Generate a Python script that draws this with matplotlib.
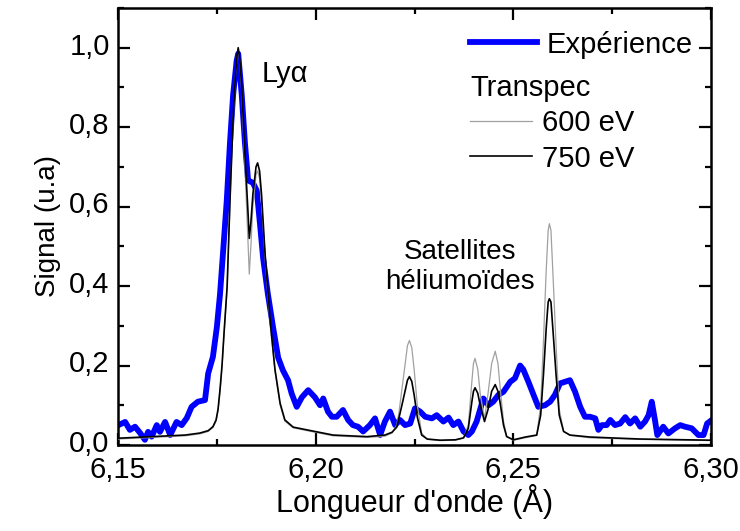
import matplotlib
matplotlib.use("Agg")
import matplotlib.pyplot as plt
from matplotlib.lines import Line2D
from matplotlib.ticker import MultipleLocator, FuncFormatter
from matplotlib.transforms import ScaledTranslation

plt.rcParams['font.family'] = ['Liberation Sans', 'DejaVu Sans']

# Experimental spectrum (wavelength in Angstrom, normalised signal)
exp_x = [6.1501, 6.1518, 6.1530, 6.1543, 6.1556, 6.1568, 6.1576, 6.1585, 6.1598, 6.1606,
         6.1619, 6.1632, 6.1648, 6.1661, 6.1674, 6.1686, 6.1702, 6.1720, 6.1728, 6.1740,
         6.1750, 6.1758, 6.1766, 6.1775, 6.1783, 6.1791, 6.1800, 6.1804, 6.1813, 6.1821,
         6.1829, 6.1841, 6.1851, 6.1859, 6.1867, 6.1879, 6.1892, 6.1905, 6.1917, 6.1930,
         6.1939, 6.1952, 6.1965, 6.1981, 6.1998, 6.2011, 6.2019, 6.2031, 6.2041, 6.2053,
         6.2069, 6.2082, 6.2094, 6.2107, 6.2120, 6.2137, 6.2150, 6.2163, 6.2175, 6.2188,
         6.2201, 6.2213, 6.2226, 6.2239, 6.2251, 6.2264, 6.2277, 6.2294, 6.2306, 6.2323,
         6.2336, 6.2348, 6.2361, 6.2374, 6.2386, 6.2395, 6.2407, 6.2424, 6.2437, 6.2449,
         6.2462, 6.2475, 6.2492, 6.2504, 6.2517, 6.2525, 6.2538, 6.2551, 6.2563, 6.2580,
         6.2593, 6.2605, 6.2618, 6.2643, 6.2656, 6.2669, 6.2681, 6.2694, 6.2707, 6.2715,
         6.2724, 6.2736, 6.2745, 6.2757, 6.2770, 6.2783, 6.2795, 6.2808, 6.2821, 6.2833,
         6.2842, 6.2850, 6.2858, 6.2864, 6.2879, 6.2892, 6.2909, 6.2922, 6.2934, 6.2951,
         6.2968, 6.2981, 6.2990, 6.3002]
exp_y = [0.050, 0.058, 0.038, 0.046, 0.030, 0.013, 0.033, 0.021, 0.050, 0.033,
         0.058, 0.025, 0.058, 0.050, 0.068, 0.096, 0.109, 0.113, 0.180, 0.222,
         0.297, 0.380, 0.490, 0.615, 0.758, 0.880, 0.967, 0.985, 0.880, 0.760,
         0.666, 0.660, 0.640, 0.557, 0.470, 0.380, 0.297, 0.220, 0.188, 0.163,
         0.130, 0.096, 0.120, 0.138, 0.120, 0.100, 0.117, 0.084, 0.071, 0.071,
         0.088, 0.063, 0.050, 0.046, 0.034, 0.050, 0.067, 0.025, 0.059, 0.084,
         0.050, 0.063, 0.050, 0.054, 0.092, 0.084, 0.071, 0.067, 0.075, 0.059,
         0.069, 0.050, 0.059, 0.034, 0.025, 0.034, 0.059, 0.117, 0.100, 0.109,
         0.126, 0.134, 0.159, 0.168, 0.200, 0.190, 0.159, 0.126, 0.096, 0.100,
         0.109, 0.126, 0.155, 0.163, 0.134, 0.096, 0.071, 0.071, 0.067, 0.038,
         0.050, 0.050, 0.063, 0.050, 0.054, 0.070, 0.054, 0.067, 0.046, 0.059,
         0.075, 0.109, 0.063, 0.025, 0.046, 0.029, 0.042, 0.050, 0.046, 0.042,
         0.025, 0.025, 0.054, 0.063]

# Transpec simulations, same wavelength grid for both temperatures
sim_x = [6.1500, 6.1606, 6.1670, 6.1707, 6.1728, 6.1740, 6.1748, 6.1753, 6.1758, 6.1763,
         6.1768, 6.1776, 6.1783, 6.1791, 6.1797, 6.1801, 6.1804, 6.1808, 6.1813, 6.1821,
         6.1828, 6.1832, 6.1836, 6.1841, 6.1849, 6.1853, 6.1858, 6.1863, 6.1872, 6.1885,
         6.1897, 6.1910, 6.1922, 6.1943, 6.1993, 6.2044, 6.2130, 6.2175, 6.2193, 6.2205,
         6.2211, 6.2218, 6.2227, 6.2232, 6.2237, 6.2243, 6.2249, 6.2257, 6.2268, 6.2282,
         6.2315, 6.2353, 6.2374, 6.2386, 6.2395, 6.2399, 6.2403, 6.2410, 6.2416, 6.2427,
         6.2436, 6.2445, 6.2454, 6.2461, 6.2466, 6.2475, 6.2483, 6.2500, 6.2530, 6.2559,
         6.2569, 6.2576, 6.2583, 6.2588, 6.2591, 6.2595, 6.2601, 6.2608, 6.2616, 6.2627,
         6.2643, 6.2694, 6.2820, 6.3000]
sim_750 = [0.017, 0.022, 0.025, 0.030, 0.036, 0.046, 0.063, 0.090, 0.140, 0.200,
           0.280, 0.400, 0.610, 0.820, 0.930, 0.980, 1.000, 0.970, 0.900, 0.730,
           0.600, 0.520, 0.560, 0.630, 0.700, 0.710, 0.690, 0.630, 0.480, 0.310,
           0.190, 0.105, 0.063, 0.045, 0.035, 0.025, 0.021, 0.025, 0.032, 0.045,
           0.070, 0.100, 0.140, 0.163, 0.172, 0.160, 0.126, 0.070, 0.025, 0.015,
           0.012, 0.013, 0.018, 0.042, 0.109, 0.135, 0.144, 0.130, 0.100, 0.059,
           0.090, 0.135, 0.152, 0.135, 0.109, 0.050, 0.021, 0.013, 0.020, 0.025,
           0.075, 0.176, 0.293, 0.360, 0.368, 0.360, 0.276, 0.176, 0.075, 0.034,
           0.025, 0.020, 0.015, 0.012]
sim_600 = [0.015, 0.020, 0.023, 0.028, 0.034, 0.044, 0.060, 0.087, 0.135, 0.195,
           0.275, 0.395, 0.605, 0.815, 0.930, 0.975, 0.995, 0.965, 0.890, 0.700,
           0.530, 0.430, 0.500, 0.600, 0.680, 0.690, 0.670, 0.610, 0.470, 0.300,
           0.185, 0.100, 0.060, 0.043, 0.033, 0.023, 0.019, 0.022, 0.030, 0.050,
           0.085, 0.140, 0.210, 0.250, 0.263, 0.245, 0.190, 0.100, 0.030, 0.014,
           0.011, 0.012, 0.017, 0.050, 0.160, 0.205, 0.218, 0.190, 0.130, 0.065,
           0.130, 0.205, 0.236, 0.205, 0.150, 0.060, 0.022, 0.012, 0.018, 0.024,
           0.100, 0.260, 0.440, 0.540, 0.557, 0.540, 0.410, 0.250, 0.090, 0.035,
           0.024, 0.018, 0.014, 0.011]

fs = 21

fig = plt.figure(figsize=(7.4, 5.31), dpi=100)
ax = fig.add_axes([0.1595, 0.162, 0.8014, 0.823])

ax.plot(exp_x, exp_y, color='#0000ff', lw=4.2, solid_joinstyle='round', zorder=2)
ax.plot(sim_x, sim_600, color='#a0a0a0', lw=0.9, zorder=3)
ax.plot(sim_x, sim_750, color='black', lw=1.2, zorder=4)

ax.set_xlim(6.15, 6.30)
ax.set_ylim(0, 1.1)
ax.xaxis.set_major_locator(MultipleLocator(0.05))
ax.xaxis.set_minor_locator(MultipleLocator(0.025))
ax.yaxis.set_major_locator(MultipleLocator(0.2))
ax.yaxis.set_minor_locator(MultipleLocator(0.1))
ax.xaxis.set_major_formatter(FuncFormatter(lambda v, p: f"{v:.2f}".replace('.', ',')))
ax.yaxis.set_major_formatter(FuncFormatter(lambda v, p: f"{v:.1f}".replace('.', ',')))

ax.tick_params(which='both', direction='in', top=True, right=True, width=1.6, labelsize=fs)
ax.tick_params(which='major', length=8.5, pad=6)
ax.tick_params(axis='x', which='major', pad=8)
ax.tick_params(which='minor', length=4.5)
for s in ax.spines.values():
    s.set_linewidth(1.8)

# y tick labels sit a little high, like the original
shift = ScaledTranslation(0, 3 / 72, fig.dpi_scale_trans)
for lab in ax.get_yticklabels():
    lab.set_transform(lab.get_transform() + shift)

ax.set_xlabel("Longueur d'onde (Å)", fontsize=22, labelpad=0)
ax.set_ylabel("Signal (u.a)", fontsize=20, labelpad=6)

ax.text(6.1864, 0.935, "Lyα", fontsize=fs, va='center', ha='left')
ax.text(6.2365, 0.447, "Satellites\nhéliumoïdes", fontsize=20, va='center', ha='center',
        linespacing=1.2)

# legends
h_exp = Line2D([], [], color='#0000ff', lw=4.2)
leg1 = ax.legend([h_exp], ['Expérience'], loc='upper left', bbox_to_anchor=(0.594, 0.948),
                 frameon=False, fontsize=fs, handlelength=2.3, handletextpad=0.3,
                 borderaxespad=0, borderpad=0)
ax.add_artist(leg1)
h600 = Line2D([], [], color='#a0a0a0', lw=0.9)
h750 = Line2D([], [], color='black', lw=1.2)
leg2 = ax.legend([h600, h750], ['600 eV', '750 eV'], title='Transpec', title_fontsize=fs,
                 alignment='left', loc='upper left', bbox_to_anchor=(0.594, 0.849),
                 frameon=False, fontsize=fs, handlelength=2.1, handletextpad=0.35,
                 labelspacing=0.25, borderaxespad=0, borderpad=0)

fig.savefig('out.png', dpi=100)
